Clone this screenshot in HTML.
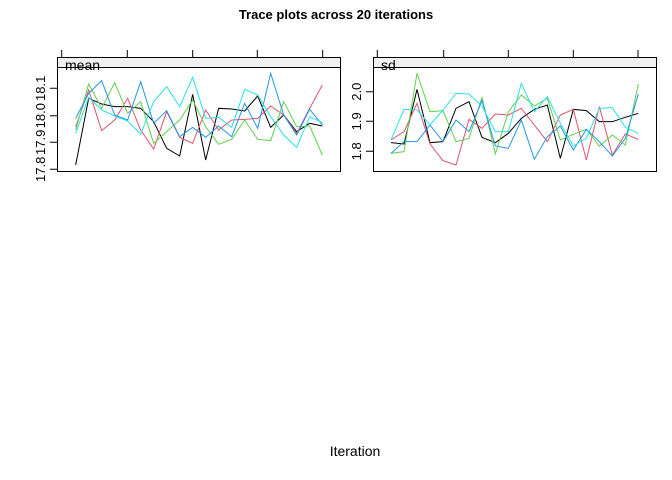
<!DOCTYPE html>
<html><head><style>body{margin:0;background:#fff}svg{display:block}</style></head><body>
<svg width="672" height="480" xmlns="http://www.w3.org/2000/svg" font-family="Liberation Sans, sans-serif">
<rect width="672" height="480" fill="#fff"/>
<text x="336" y="19" text-anchor="middle" font-weight="bold" font-size="13">Trace plots across 20 iterations</text>
<text x="355" y="456" text-anchor="middle" font-size="14">Iteration</text>
<!-- left panel -->
<g stroke="#000" fill="none" stroke-width="1">
<rect x="57.5" y="57.5" width="283" height="114"/>
<line x1="57.5" y1="67.5" x2="340.5" y2="67.5"/>
<path d="M61.7 50V57.5M127.3 50V57.5M192.7 50V57.5M257.3 50V57.5M322.7 50V57.5"/>
<path d="M50 88.3H57.5M50 115.7H57.5M50 142.3H57.5M50 169.3H57.5"/>
<rect x="373.5" y="57.5" width="283" height="114"/>
<line x1="373.5" y1="67.5" x2="656.5" y2="67.5"/>
<path d="M377.3 50V57.5M443.7 50V57.5M508.3 50V57.5M573.3 50V57.5M638 50V57.5"/>
<path d="M366 91.7H373.5M366 121.3H373.5M366 151.3H373.5"/>
</g>
<rect x="58" y="58" width="282" height="9" fill="#f0f0f0"/>
<rect x="374" y="58" width="282" height="9" fill="#f0f0f0"/>
<text x="65" y="70" font-size="14">mean</text>
<text x="381" y="70" font-size="14">sd</text>
<g font-size="13" text-anchor="middle">
<text transform="translate(45,169.3) rotate(-90)">17.8</text>
<text transform="translate(45,142.3) rotate(-90)">17.9</text>
<text transform="translate(45,115.7) rotate(-90)">18.0</text>
<text transform="translate(45,88.3) rotate(-90)">18.1</text>
<text transform="translate(361,151.3) rotate(-90)">1.8</text>
<text transform="translate(361,121.3) rotate(-90)">1.9</text>
<text transform="translate(361,91.7) rotate(-90)">2.0</text>
</g>
<g fill="none" stroke-width="1">
<g transform="translate(30,40) scale(0.33333)">
<polyline vector-effect="non-scaling-stroke" stroke="#000" points="137,375 176,175 215,192 254,200 293,200 332,205 371,245 410,325 449,348 488,163 527,360 566,205 605,207 644,213 683,168 722,262 761,225 800,275 839,250 877,258"/>
<polyline vector-effect="non-scaling-stroke" stroke="#DF536B" points="137,260 176,150 215,272 254,240 293,175 332,270 371,327 410,215 449,292 488,310 527,210 566,270 605,240 644,238 683,235 722,198 761,225 800,280 839,205 877,135"/>
<polyline vector-effect="non-scaling-stroke" stroke="#61D04F" points="137,270 176,132 215,205 254,128 293,220 332,185 371,310 410,275 449,240 488,180 527,260 566,313 605,298 644,240 683,298 722,302 761,185 800,260 839,258 877,345"/>
<polyline vector-effect="non-scaling-stroke" stroke="#2297E6" points="137,235 176,160 215,122 254,225 293,240 332,125 371,250 410,212 449,290 488,262 527,292 566,258 605,290 644,190 683,265 722,100 761,225 800,285 839,208 877,255"/>
<polyline vector-effect="non-scaling-stroke" stroke="#28E2E5" points="137,280 176,172 215,210 254,228 293,243 332,282 371,185 410,140 449,200 488,112 527,235 566,232 605,262 644,148 683,165 722,230 761,285 800,322 839,230 877,248"/>
</g>
<g transform="translate(340,40) scale(0.33333)">
<polyline vector-effect="non-scaling-stroke" stroke="#000" points="153,308 192,312 231,148 270,308 309,305 348,205 387,185 426,292 466,308 505,280 544,235 583,208 622,195 661,355 700,208 739,212 778,245 817,245 856,232 895,220"/>
<polyline vector-effect="non-scaling-stroke" stroke="#DF536B" points="153,300 192,275 231,190 270,312 309,362 348,375 387,238 426,265 466,222 505,225 544,205 583,255 622,305 661,225 700,208 739,360 778,200 817,345 856,282 895,298"/>
<polyline vector-effect="non-scaling-stroke" stroke="#61D04F" points="153,340 192,335 231,100 270,215 309,212 348,305 387,295 426,172 466,342 505,215 544,165 583,198 622,175 661,300 700,283 739,268 778,318 817,285 856,315 895,132"/>
<polyline vector-effect="non-scaling-stroke" stroke="#2297E6" points="153,340 192,305 231,305 270,255 309,305 348,240 387,275 426,182 466,318 505,325 544,240 583,358 622,290 661,258 700,330 739,268 778,305 817,348 856,295 895,162"/>
<polyline vector-effect="non-scaling-stroke" stroke="#28E2E5" points="153,300 192,208 231,210 270,255 309,210 348,160 387,162 426,198 466,275 505,275 544,130 583,215 622,170 661,250 700,318 739,295 778,205 817,203 856,262 895,280"/>
</g>
</g>
</svg>
</body></html>
